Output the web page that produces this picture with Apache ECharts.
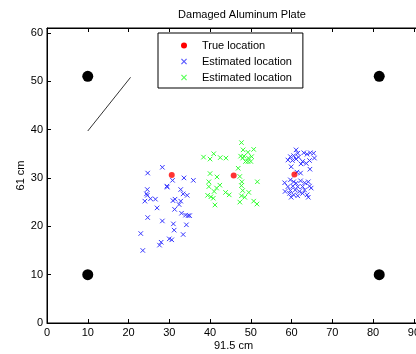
<!DOCTYPE html>
<html><head><meta charset="utf-8">
<script src="https://cdn.jsdelivr.net/npm/echarts@6/dist/echarts.min.js"></script>
<style>html,body{margin:0;padding:0;background:#fff}#c{width:416px;height:354px}</style>
</head><body><div id="c"></div>
<script>
const titleText = 'Damaged Aluminum Plate';
const xName = '91.5 cm';
const yName = '61 cm';
const xMax = 91.5, yMax = 61;
const trueLocation = [[30.6,30.6],[45.8,30.5],[60.7,30.7]];
const estimatedBlue = [
 [28.3,32.2],[24.7,31.0],[33.6,30.0],[35.9,29.5],[30.8,29.5],[29.4,28.3],[29.5,28.1],[24.6,27.6],
 [24.4,26.7],[24.6,26.4],[25.4,25.7],[26.6,25.6],[24.0,25.2],[32.8,27.6],[33.4,26.7],[34.4,26.4],
 [31.4,25.6],[30.9,25.3],[32.8,25.2],[32.4,24.5],[27.0,23.8],[31.3,23.5],[33.0,22.7],[34.0,22.3],
 [34.6,22.2],[35.0,22.2],[24.7,21.8],[28.3,21.1],[34.2,20.3],[31.0,20.5],[31.2,19.2],[23.0,18.5],
 [33.4,18.3],[30.0,17.4],[30.6,17.2],[28.0,16.7],[27.6,16.1],[23.5,15.0],
 [61.1,35.8],[61.5,35.1],[60.5,34.6],[59.7,34.4],[59.1,33.7],[60.2,33.6],[61.1,33.9],[61.7,34.3],
 [63.0,35.2],[63.8,34.9],[64.6,35.2],[65.4,35.1],[65.6,34.1],[62.7,33.4],[63.6,33.0],[62.3,32.9],
 [64.4,33.6],[64.5,31.8],[59.9,32.3],[62.2,31.0],[61.3,31.2],[58.3,29.0],[59.7,29.6],[60.5,29.2],
 [61.1,28.9],[62.2,29.4],[63.2,29.0],[64.1,29.2],[59.1,28.2],[60.3,28.3],[61.5,28.2],[62.7,28.2],
 [64.4,28.3],[58.4,27.2],[59.7,27.4],[60.9,27.5],[61.9,27.2],[63.2,27.5],[64.8,27.9],[59.5,26.8],
 [60.5,26.5],[61.5,26.3],[62.7,26.8],[63.8,26.5],[59.9,26.0],[64.1,26.0]
];
const estimatedGreen = [
 [47.7,37.3],[48.1,35.8],[49.3,35.3],[50.7,35.9],[47.5,34.5],[48.3,34.5],[48.0,34.1],[49.4,34.1],
 [50.2,34.4],[48.7,33.4],[49.3,33.4],[50.0,33.4],[46.9,32.0],[38.4,34.3],[40.0,33.9],[40.9,35.0],
 [42.5,34.2],[43.9,34.1],[40.0,30.9],[41.7,30.2],[47.3,30.3],[47.8,29.2],[51.6,29.2],[39.7,29.2],
 [39.7,28.2],[42.4,28.5],[41.6,27.9],[41.0,27.2],[43.8,27.0],[44.7,26.5],[47.7,28.4],[48.0,27.4],
 [49.5,27.0],[39.4,26.4],[40.2,26.1],[40.8,25.8],[47.7,26.3],[48.5,26.0],[47.3,25.0],[50.7,25.2],
 [51.5,24.6],[41.2,24.4]
];
const sensors = [[10,10],[10,51],[81.5,10],[81.5,51]];
const damageLine = [[10,39.7],[20.5,50.8]];
const seriesKeys = ['true','estBlue','estGreen'];
const legendLabels = {true:'True location',estBlue:'Estimated location',estGreen:'Estimated location'};

const xPath = 'path://M0,0L10,10M10,0L0,10';
const xFilled = 'path://M0,1.4L1.4,0L5,3.6L8.6,0L10,1.4L6.4,5L10,8.6L8.6,10L5,6.4L1.4,10L0,8.6L3.6,5Z';
const blue = '#3535ff', green = '#30ff30', red = '#ff0000';
const font = 'Liberation Sans, Arial, sans-serif';
const chart = echarts.init(document.getElementById('c'));
const axisCommon = {
  axisLine:{show:true,onZero:false,lineStyle:{color:'#000',width:1}},
  axisTick:{show:true,inside:true,length:4,lineStyle:{color:'#000'}},
  splitLine:{show:false}
};
chart.setOption({
  animation:false,
  title:{text:titleText,left:237,top:4,textAlign:'center',textStyle:{fontFamily:font,fontSize:11,fontWeight:'normal',color:'#000'}},
  legend:{
    orient:'vertical',left:158,top:33,width:144,
    padding:[6,11,4,23],itemGap:3,itemWidth:6,itemHeight:6,
    borderColor:'#000',borderWidth:1,backgroundColor:'#fff',
    textStyle:{fontFamily:font,fontSize:11,color:'#000',padding:[0,0,0,10],lineHeight:13},
    formatter:function(n){return legendLabels[n];},
    itemStyle:{borderWidth:0},
    data:[
      {name:seriesKeys[0],icon:'circle',itemStyle:{color:red,borderWidth:0,opacity:1}},
      {name:seriesKeys[1],icon:xFilled,itemStyle:{color:'#5a5aff',borderWidth:0,opacity:1}},
      {name:seriesKeys[2],icon:xFilled,itemStyle:{color:'#5aff5a',borderWidth:0,opacity:1}}
    ],
    selectedMode:false
  },
  grid:{left:47,top:28,right:-4,bottom:31,show:true,borderColor:'#000',borderWidth:1,containLabel:false,outerBoundsMode:'none'},
  xAxis:[
    Object.assign({type:'value',min:0,max:xMax,interval:10,position:'bottom',
      name:xName,nameLocation:'middle',nameGap:17,nameMoveOverlap:false,
      nameTextStyle:{fontFamily:font,fontSize:11,color:'#000',verticalAlign:'top'},
      axisLabel:{fontFamily:font,fontSize:11,color:'#000',margin:4,showMaxLabel:false}},axisCommon),
    Object.assign({type:'value',min:0,max:xMax,interval:10,position:'top',axisLabel:{show:false}},axisCommon)
  ],
  yAxis:[
    Object.assign({type:'value',min:0,max:yMax,interval:10,
      name:yName,nameLocation:'middle',nameGap:21,nameRotate:90,nameMoveOverlap:false,
      nameTextStyle:{fontFamily:font,fontSize:11,color:'#000'},
      axisLabel:{fontFamily:font,fontSize:11,color:'#000',margin:4,showMaxLabel:false}},axisCommon)
  ],
  series:[
    {type:'line',data:damageLine,symbol:'none',lineStyle:{color:'#333',width:1},silent:true,z:2},
    {type:'scatter',data:sensors,symbol:'circle',symbolSize:11,itemStyle:{color:'#000',opacity:1},silent:true,z:2},
    {type:'scatter',name:seriesKeys[1],data:estimatedBlue,symbol:xPath,symbolSize:4.5,
      itemStyle:{color:blue,borderColor:blue,borderWidth:1,opacity:1},z:3},
    {type:'scatter',name:seriesKeys[2],data:estimatedGreen,symbol:xPath,symbolSize:4.5,
      itemStyle:{color:green,borderColor:green,borderWidth:1,opacity:1},z:3},
    {type:'scatter',name:seriesKeys[0],data:trueLocation,symbol:'circle',symbolSize:6,itemStyle:{color:red},z:4}
  ]
});
</script></body></html>
